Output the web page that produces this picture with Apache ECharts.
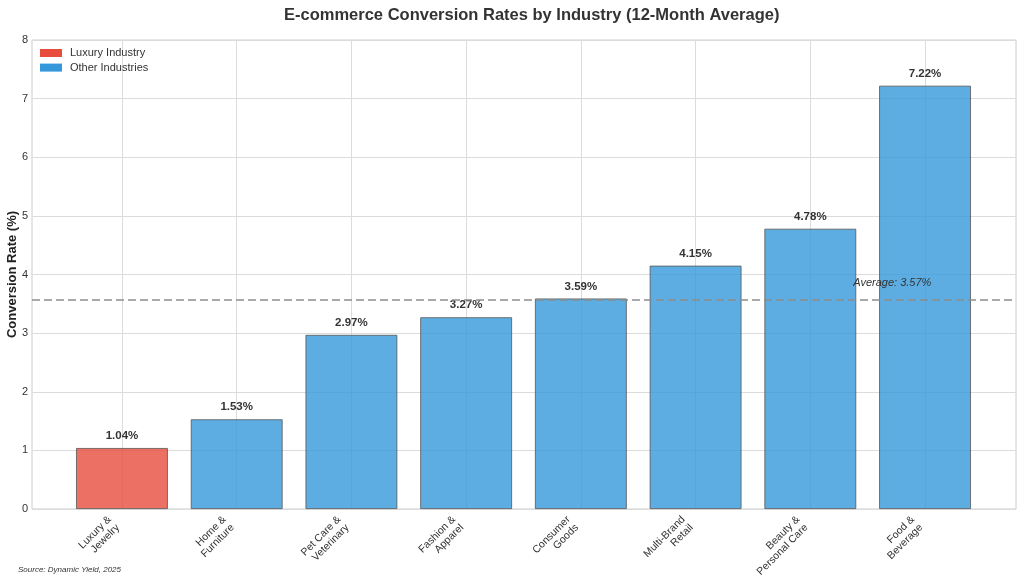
<!DOCTYPE html>
<html><head><meta charset="utf-8">
<script src="https://cdn.jsdelivr.net/npm/echarts@6/dist/echarts.min.js"></script>
<style>html,body{margin:0;padding:0;background:#fff}#c{width:1024px;height:583px}</style>
</head><body><div id="c"></div>
<script>
const categories = ['Luxury &\nJewelry','Home &\nFurniture','Pet Care &\nVeterinary','Fashion &\nApparel','Consumer\nGoods','Multi-Brand\nRetail','Beauty &\nPersonal Care','Food &\nBeverage'];
const rates = [1.04, 1.53, 2.97, 3.27, 3.59, 4.15, 4.78, 7.22];
const luxuryIndex = 0;
const average = 3.57;
const yTicks = [0,1,2,3,4,5,6,7,8];

const luxury = rates.map((v,i)=> i===luxuryIndex ? v : '-');
const others = rates.map((v,i)=> i===luxuryIndex ? '-' : v);
const font = 'Liberation Sans';
const chart = echarts.init(document.getElementById('c'));
const barLabel = {show:true, position:'top', distance:6, formatter: p => p.value.toFixed(2)+'%', fontFamily:font, fontSize:11.5, fontWeight:'bold', color:'#333'};
const yMin = yTicks[0], yMax = yTicks[yTicks.length-1];
chart.setOption({
  animation:false,
  textStyle:{fontFamily:font},
  title:{text:'E-commerce Conversion Rates by Industry (12-Month Average)', left:279, top:2,
    textStyle:{fontFamily:font, fontSize:16.5, fontWeight:'bold', color:'#333'}},
  legend:{left:40, top:47.5, padding:0, orient:'vertical', icon:'rect', itemWidth:22, itemHeight:8, itemGap:3.6,
    textStyle:{fontFamily:font, fontSize:11, color:'#333', padding:[0,0,0,3]},
    data:[{name:'Luxury Industry', itemStyle:{color:'#e74c3c', opacity:1, borderWidth:0}}, {name:'Other Industries', itemStyle:{color:'#3498db', opacity:1, borderWidth:0}}]},
  graphic:[{type:'text', left:18, top:566, style:{text:'Source: Dynamic Yield, 2025', font:'italic 8px Liberation Sans', fill:'#333'}}],
  grid:[
    {left:64.6, right:41.6, top:40, bottom:74, show:false, outerBoundsMode:'none', containLabel:false},
    {left:32, right:8, top:40, bottom:74, show:true, borderColor:'#ccc', borderWidth:1, outerBoundsMode:'none', containLabel:false}
  ],
  xAxis:[
    {type:'category', gridIndex:0, data:categories,
      axisLine:{show:false}, axisTick:{show:false}, splitLine:{show:false},
      axisLabel:{rotate:45, interval:0, fontFamily:font, fontSize:10.5, color:'#333', lineHeight:11.5, margin:21, align:'right', verticalAlign:'bottom'}},
    {type:'value', gridIndex:1, min:0, max:1, show:false}
  ],
  yAxis:[
    {type:'value', gridIndex:0, min:yMin, max:yMax, interval:1, show:false},
    {type:'value', gridIndex:1, min:yMin, max:yMax, interval:1,
      name:'Conversion Rate (%)', nameLocation:'middle', nameGap:13, nameRotate:90, nameMoveOverlap:false,
      nameTextStyle:{fontFamily:font, fontSize:13, fontWeight:'bold', color:'#222'},
      axisLine:{show:false}, axisTick:{show:false},
      axisLabel:{fontFamily:font, fontSize:11, color:'#333', margin:4},
      splitLine:{lineStyle:{color:'#dcdcdc', width:1}}}
  ],
  series:[
    {type:'line', xAxisIndex:0, yAxisIndex:0, data:categories.map(()=>'-'), z:0, silent:true,
      markLine:{silent:true, z:0, symbol:'none', label:{show:false}, lineStyle:{color:'#dcdcdc', type:'solid', width:1},
        data:categories.map(c=>({xAxis:c}))}},
    {name:'Luxury Industry', type:'bar', xAxisIndex:0, yAxisIndex:0, stack:'s', data:luxury, barWidth:'80%', z:2,
      itemStyle:{color:'rgba(231,76,60,0.8)', borderColor:'#555', borderWidth:0.8}, label:barLabel},
    {name:'Other Industries', type:'bar', xAxisIndex:0, yAxisIndex:0, stack:'s', data:others, barWidth:'80%', z:2,
      itemStyle:{color:'rgba(52,152,219,0.8)', borderColor:'#555', borderWidth:0.8}, label:barLabel,
      markPoint:{symbolSize:0, silent:true, data:[{coord:[categories[6], average]}],
        label:{show:true, position:'right', distance:0, offset:[43,-17], formatter:'Average: '+average.toFixed(2)+'%',
          fontFamily:font, fontSize:11, fontStyle:'italic', color:'#333'}}},
    {type:'line', xAxisIndex:1, yAxisIndex:1, data:[], symbol:'none', silent:true, z:5,
      markLine:{silent:true, symbol:'none', label:{show:false}, z:5,
        lineStyle:{color:'rgba(140,140,140,0.75)', type:[8,4], width:2}, data:[{yAxis:average}]}}
  ]
});
</script></body></html>
